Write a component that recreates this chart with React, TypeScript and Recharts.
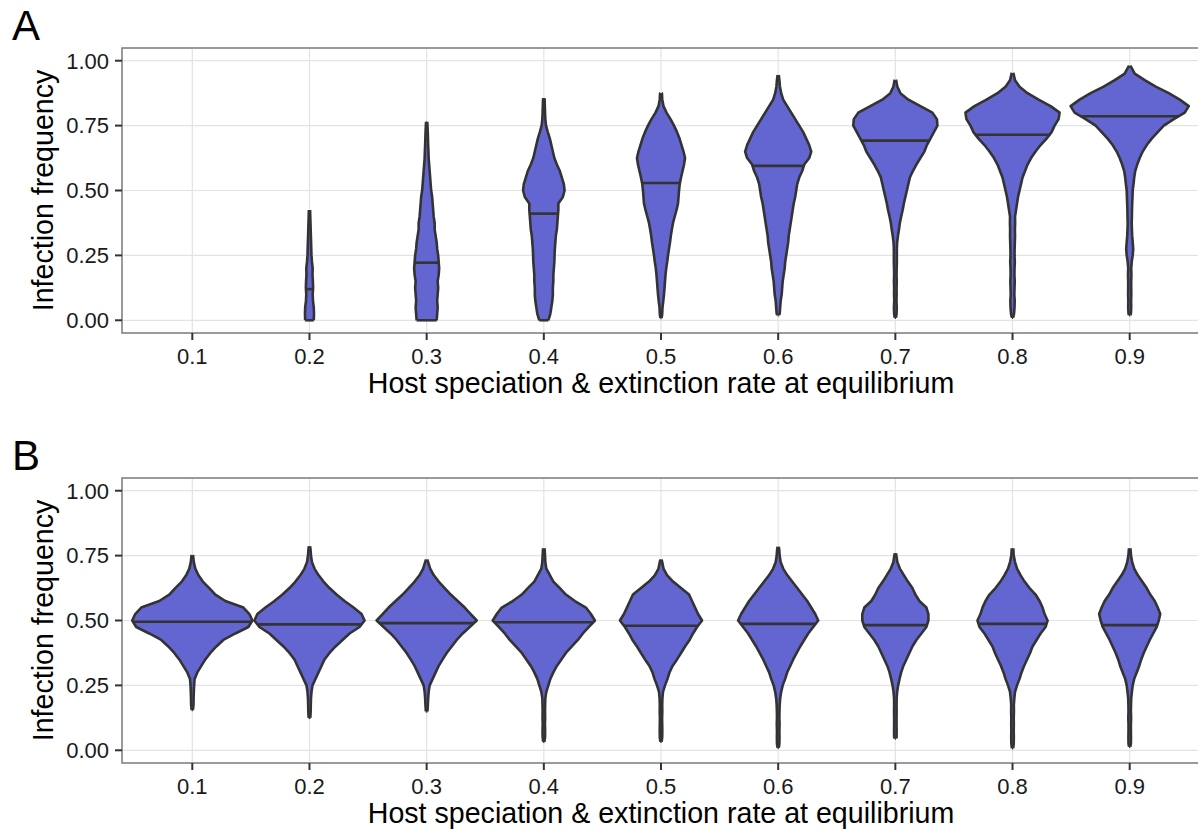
import React from "react";
import { Area, CartesianGrid, ComposedChart, ReferenceArea, ReferenceLine, XAxis, YAxis } from "recharts";

const RATES = [0.1, 0.2, 0.3, 0.4, 0.5, 0.6, 0.7, 0.8, 0.9];
const Y_TICKS = [0, 0.25, 0.5, 0.75, 1];
const Y_MINOR = [0.125, 0.375, 0.625, 0.875];
const X_DOMAIN: [number, number] = [0.04, 0.96];
const Y_DOMAIN: [number, number] = [-0.049, 1.049];

// density profiles are sampled every 0.025 of infection frequency,
// starting at the first step at or above the violin's low end
const STEP = 0.025;
const DENS_TO_X = 0.1 / 117; // violin half-width per density unit
const TIP = 0.6; // density at the very ends of the tails

// ---- panel A ----
const A_LO = [null, 0, 0, 0, 0.009, 0.02, 0.01, 0.01, 0.02];
const A_HI = [null, 0.425, 0.765, 0.856, 0.876, 0.945, 0.927, 0.953, 0.981];
const A_MEDIAN = [null, 0.12, 0.222, 0.411, 0.529, 0.595, 0.692, 0.715, 0.786];
const A_MEDIAN_DENS = [null, 3.5, 12, 14.2, 18.9, 25.6, 33.9, 37.5, 48.5];
const A_DENS: number[][] = [
  [],
  [4.3, 4.5, 4.3, 3.5, 3.2, 3.6, 3.4, 3.0, 3.2, 2.5, 2.0, 1.8, 1.6, 1.4, 1.2, 1.0, 0.8],
  [10, 10.5, 11, 10.5, 11, 11.5, 11, 12, 12.5, 12, 11.5, 10.5, 10, 9, 8, 8, 7, 6.5, 6, 5.5, 4.5, 4, 3.5, 3, 2.5, 2, 1.8, 1.5, 1.3, 1.1, 0.8],
  [4.5, 6.5, 7.5, 8.5, 9, 9, 9.5, 9.5, 10, 10.5, 10.7, 11, 11.5, 12, 13, 13.5, 14, 14.5, 14.5, 19, 20.7, 20, 18, 16, 13, 10.5, 9, 7.5, 6, 4, 2.2, 1.5, 1.2, 1.0, 0.8],
  [1.2, 1.5, 2.3, 3, 3.5, 4, 4.5, 5.2, 6.2, 7, 8, 9, 9.8, 10.8, 12, 13.7, 15.5, 17, 17.5, 18, 18.7, 20, 21.5, 23, 24, 22.5, 20.5, 18.5, 16, 13, 9.5, 5.5, 2.5, 1.3, 0.9],
  [1.5, 2, 2.5, 3.5, 4, 4.5, 5.5, 6.5, 7, 8, 9, 10, 10.5, 11.5, 12.5, 13.5, 14.5, 15.5, 17, 18, 19, 21, 24, 26, 31, 33, 31, 28, 25, 21, 17, 13, 9, 5, 3, 1.8, 1.2],
  [1.2, 1.4, 1.1, 1.3, 1.2, 1.4, 1.2, 1.3, 1.5, 1.5, 1.5, 1.8, 2.6, 3.6, 4.5, 5.8, 7.3, 8.5, 10, 11.5, 13, 14.5, 17.5, 21, 25, 29, 31.5, 35, 38.5, 42, 41.5, 37, 25, 13, 5, 2, 0.8],
  [1.5, 2, 2.2, 1.8, 2, 2.2, 1.9, 2, 2.3, 2, 2.1, 2.3, 2.5, 2.4, 2.6, 2.5, 3.5, 4.5, 5.5, 7, 8.5, 10, 12.5, 15, 18.5, 23, 28, 34, 39, 42, 46, 47, 38, 26, 15, 7, 2.5, 1],
  [1.2, 1.5, 1.4, 1.6, 1.5, 1.5, 1.7, 1.5, 2, 3, 3.5, 3, 2.5, 2.2, 2, 2.2, 2.3, 2.5, 2.8, 3, 3.8, 4.5, 5.5, 7.5, 10, 13, 17, 22, 28, 34, 44, 55, 59, 50, 39, 26, 15, 5, 1.5],
];

// ---- panel B ----
const B_LO = [0.155, 0.125, 0.15, 0.033, 0.033, 0.01, 0.046, 0.008, 0.014];
const B_HI = [0.752, 0.786, 0.735, 0.778, 0.735, 0.784, 0.759, 0.778, 0.778];
const B_MEDIAN = [0.495, 0.485, 0.49, 0.493, 0.48, 0.487, 0.482, 0.487, 0.482];
const B_MEDIAN_DENS = [59.2, 52, 47.2, 49.3, 37, 37.4, 31.6, 34, 27.6];
const B_DENS: number[][] = [
  [1.2, 1.3, 1.5, 1.8, 2.3, 5, 9, 13, 18, 24, 31, 43, 56, 60, 57, 51, 33, 23, 17, 10.5, 6, 3, 1.5, 0.8],
  [0.8, 1.2, 1.3, 1.5, 2, 3, 6, 9, 12, 15, 20, 26, 33, 40, 50, 55, 52, 44, 35, 27, 20, 14, 9, 5, 2.5, 1.5, 1],
  [0.8, 1.2, 1.5, 2, 3, 6, 9, 12, 16, 20, 25, 30, 36, 43, 50, 44, 38, 31, 24, 18, 12, 7, 3.5, 1.5],
  [1.2, 1.3, 1.1, 1.3, 1.2, 1.3, 1.5, 2.5, 4.5, 6.5, 9.5, 13, 17.5, 22, 28, 34, 39, 45, 51, 47, 42, 31, 22, 16, 9.5, 6, 2.5, 1.5, 1.2, 0.8],
  [1.2, 1.3, 1.2, 1.1, 1.3, 1.2, 1.4, 2, 4, 6.5, 8.5, 11.5, 16, 20, 24, 28.5, 32, 36, 41, 37, 34, 31, 28, 20, 12, 6, 2.5, 1.2],
  [1.2, 1.3, 1.2, 1.4, 1.2, 1.3, 1.5, 2, 3, 4.5, 7, 9, 12, 15, 18.5, 22, 26, 30, 35, 40, 37, 33, 29, 24, 19, 14, 9, 5, 2.5, 1.5, 1],
  [1.2, 1.3, 1.2, 1.2, 1.3, 1.2, 1.3, 1.8, 2.8, 4.2, 5.8, 8, 11, 14, 17, 21, 26, 31, 33, 33, 31, 24, 20, 17, 12.5, 8.5, 4.5, 2, 1],
  [1.2, 1.3, 1.2, 1.3, 1.2, 1.4, 1.3, 1.8, 2.5, 4.5, 7, 9, 11.5, 14.5, 17.5, 20, 24, 28, 33, 35, 32, 30, 27, 23, 17, 12, 8, 4.5, 2.5, 1.2, 0.8],
  [1.2, 1.3, 1.2, 1.2, 1.4, 1.2, 1.3, 1.5, 2.2, 3, 4.5, 7, 9.5, 11.5, 14, 17, 20, 23.5, 27, 29, 30.5, 28, 25, 20.5, 17, 12.5, 8, 4.5, 2.5, 1.3, 0.8],
];

const FILL = "#6366d1";
const OUTLINE = "#333333";
const LINE_W = 2.6;
const FONT = "'Liberation Sans', Arial, Helvetica, sans-serif";

type Lim = (number | null)[];

// density of violin k at y; null when y is neither a sample step nor one of its own ends
function densAt(y: number, k: number, lo: Lim, hi: Lim, dens: number[][]): number | null {
  const l = lo[k] as number;
  const h = hi[k] as number;
  const q = y / STEP;
  if (Math.abs(q - Math.round(q)) > 1e-6) {
    return Math.abs(y - l) < 1e-9 || Math.abs(y - h) < 1e-9 ? TIP : null;
  }
  const idx = Math.round(q) - Math.ceil(l / STEP - 1e-6);
  const d = dens[k][idx];
  return d == null ? TIP : d;
}

function buildRows(lo: Lim, hi: Lim, dens: number[][]) {
  const ys = new Set<number>();
  for (let i = 0; i <= Math.round(1 / STEP); i++) ys.add(+(i * STEP).toFixed(4));
  lo.forEach((l, k) => {
    if (l != null) { ys.add(l); ys.add(hi[k] as number); }
  });
  return [...ys].sort((a, b) => a - b).map((y) => {
    const row: Record<string, unknown> = { y };
    RATES.forEach((c, k) => {
      const l = lo[k];
      const h = hi[k];
      const d = l == null || h == null || y < l - 1e-9 || y > h + 1e-9 ? null : densAt(y, k, lo, hi, dens);
      row[`v${k}`] = d == null ? [null, null] : [c - d * DENS_TO_X, c + d * DENS_TO_X];
    });
    return row;
  });
}

interface PanelProps {
  lo: Lim;
  hi: Lim;
  med: Lim;
  medDens: Lim;
  dens: number[][];
}

function Panel({ lo, hi, med, medDens, dens }: PanelProps) {
  const rows = buildRows(lo, hi, dens);
  const tick = { fontSize: 22, fill: "#1a1a1a", fontFamily: FONT };
  return (
    <ComposedChart width={1210} height={420} data={rows} layout="vertical" margin={{ top: 48, right: 10, bottom: 0, left: 0 }}>
      <CartesianGrid yAxisId="minor" vertical={false} stroke="#f2f2f2" strokeWidth={1} />
      <CartesianGrid stroke="#e3e3e3" strokeWidth={1.2} />
      <XAxis
        type="number" domain={X_DOMAIN} ticks={RATES} interval={0} allowDataOverflow height={87}
        tickFormatter={(v) => (v as number).toFixed(1)} tickSize={7} tickMargin={8}
        axisLine={false} tick={tick} tickLine={{ stroke: "#333", strokeWidth: 2 }}
      />
      <YAxis
        type="number" dataKey="y" domain={Y_DOMAIN} ticks={Y_TICKS} interval={0} allowDataOverflow reversed width={122}
        tickFormatter={(v) => (v as number).toFixed(2)} tickSize={7} tickMargin={6}
        axisLine={false} tick={tick} tickLine={{ stroke: "#333", strokeWidth: 2 }}
      />
      <YAxis
        yAxisId="minor" orientation="right" type="number" dataKey="y" domain={Y_DOMAIN} ticks={Y_MINOR}
        allowDataOverflow reversed width={0} tick={false} tickLine={false} axisLine={false}
      />
      {RATES.map((_, k) =>
        lo[k] == null ? null : (
          <Area
            key={k} dataKey={`v${k}`} type="linear" connectNulls
            fill={FILL} fillOpacity={1} stroke={OUTLINE} strokeWidth={LINE_W} strokeLinejoin="round"
            dot={false} activeDot={false} isAnimationActive={false}
          />
        ),
      )}
      {RATES.map((c, k) => {
        if (lo[k] == null) return null;
        const y0 = lo[k] as number;
        const wLo = (densAt(y0, k, lo, hi, dens) ?? TIP) * DENS_TO_X;
        const wMed = (medDens[k] as number) * DENS_TO_X;
        return (
          <React.Fragment key={`m${k}`}>
            <ReferenceLine segment={[{ x: c - wLo, y: y0 }, { x: c + wLo, y: y0 }]} stroke={OUTLINE} strokeWidth={LINE_W} />
            <ReferenceLine segment={[{ x: c - wMed, y: med[k] as number }, { x: c + wMed, y: med[k] as number }]} stroke={OUTLINE} strokeWidth={LINE_W} />
          </React.Fragment>
        );
      })}
      <ReferenceArea
        x1={X_DOMAIN[0]} x2={X_DOMAIN[1]} y1={Y_DOMAIN[0]} y2={Y_DOMAIN[1]}
        fill="none" fillOpacity={0} stroke="#7f7f7f" strokeWidth={1.5} ifOverflow="visible"
      />
    </ComposedChart>
  );
}

function Titles({ top, tag }: { top: number; tag: string }) {
  return (
    <g transform={`translate(0, ${top})`} fontFamily={FONT} fill="#000">
      <text x={12} y={40} fontSize={42}>{tag}</text>
      <text x={661} y={393} fontSize={28.6} textAnchor="middle">Host speciation &amp; extinction rate at equilibrium</text>
      <text transform="translate(53, 190.5) rotate(-90)" fontSize={28.6} textAnchor="middle">Infection frequency</text>
    </g>
  );
}

export default function App() {
  return (
    <div style={{ position: "absolute", left: 0, top: 0, width: 1198, height: 832, overflow: "hidden", background: "#fff", fontFamily: FONT }}>
      <div style={{ position: "absolute", left: 0, top: 0 }}>
        <Panel lo={A_LO} hi={A_HI} med={A_MEDIAN} medDens={A_MEDIAN_DENS} dens={A_DENS} />
      </div>
      <div style={{ position: "absolute", left: 0, top: 430 }}>
        <Panel lo={B_LO} hi={B_HI} med={B_MEDIAN} medDens={B_MEDIAN_DENS} dens={B_DENS} />
      </div>
      <svg width={1198} height={832} style={{ position: "absolute", left: 0, top: 0, pointerEvents: "none" }}>
        <Titles top={0} tag="A" />
        <Titles top={430} tag="B" />
      </svg>
    </div>
  );
}
